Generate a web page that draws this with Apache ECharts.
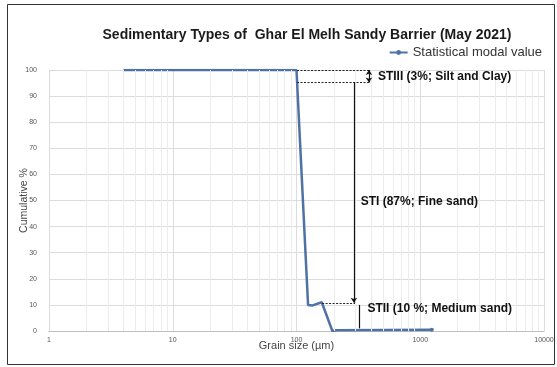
<!DOCTYPE html>
<html>
<head>
<meta charset="utf-8">
<script src="https://cdn.jsdelivr.net/npm/echarts@6/dist/echarts.min.js"></script>
<style>
  html, body { margin: 0; padding: 0; background: #fff; }
  #chart { width: 557px; height: 367px; }
</style>
</head>
<body>
<div id="chart"></div>
<script>
// 数据
const grainSize = [4, 100, 124, 135, 160, 195, 210, 1240]
const cumulative = [100, 100, 10, 9.8, 11, 0, 0.3, 0.5]
const yTicks = [0, 10, 20, 30, 40, 50, 60, 70, 80, 90, 100]
const minorX = [2, 3, 4, 5, 6, 7, 8, 9, 20, 30, 40, 50, 60, 70, 80, 90,
  200, 300, 400, 500, 600, 700, 800, 900, 2000, 3000, 4000, 5000, 6000, 7000, 8000, 9000]

// 注释 (沉积类型)
const stiiiTop = [[101, 100], [385, 100]]
const stiiiBottom = [[101, 95.2], [385, 95.2]]
const stiiiBar = [[385, 100], [385, 95.2]]
const stiArrow = [[291, 95.2], [291, 10.8]]
const stiiDotted = [[161, 10.8], [297, 10.8]]
const stiiBar = [[320, 10], [320, 1]]
const labels = [
  { text: 'STIII (3%; Silt and Clay)', at: [455, 97.3] },
  { text: 'STI (87%; Fine sand)', at: [330, 49.5] },
  { text: 'STII (10 %; Medium sand)', at: [374, 8.5] }
]

const FONT = '"Liberation Sans", Arial, sans-serif'
const chart = echarts.init(document.getElementById('chart'))

const dotted = { type: [2, 1.5], color: '#222', width: 1.2 }
const solid = { type: 'solid', color: '#111', width: 1.2 }

// 次网格线 (对数轴 2..9)
const minorLines = minorX.map(v => ({ xAxis: v }))

const annoLines = [
  [stiiiTop, dotted, null],
  [stiiiBottom, dotted, null],
  [stiiiBar, solid, ['arrow', 'arrow']],
  [stiArrow, solid, ['none', 'arrow']],
  [stiiDotted, dotted, null],
  [stiiBar, solid, null]
].map(([pts, style, sym]) => [
  { coord: pts[0], lineStyle: style, symbol: sym ? sym[0] : 'none' },
  { coord: pts[1], symbol: sym ? sym[1] : 'none' }
])

const option = {
  animation: false,
  textStyle: { fontFamily: FONT },
  title: {
    text: 'Sedimentary Types of  Ghar El Melh Sandy Barrier (May 2021)',
    left: 302,
    textAlign: 'center',
    top: 23,
    textStyle: { fontSize: 14, fontWeight: 'bold', color: '#1a1a1a', fontFamily: FONT }
  },
  legend: {
    right: 10,
    top: 41,
    itemWidth: 18,
    itemHeight: 6,
    itemGap: 2,
    textStyle: { fontSize: 13, color: '#333', fontFamily: FONT },
    data: ['Statistical modal value']
  },
  graphic: [{
    type: 'rect',
    shape: { x: 7.5, y: 4.5, width: 547, height: 360 },
    style: { fill: 'none', stroke: '#333', lineWidth: 1 },
    silent: true
  }],
  grid: { left: 49, right: 13, top: 70, bottom: 36 },
  xAxis: {
    type: 'log',
    logBase: 10,
    min: 1,
    max: 10000,
    name: 'Grain size (µm)',
    nameLocation: 'middle',
    nameMoveOverlap: false,
    nameGap: 9,
    nameTextStyle: { fontSize: 11, color: '#444', fontFamily: FONT },
    axisLine: { lineStyle: { color: '#bfbfbf' } },
    axisTick: { show: false },
    axisLabel: { fontSize: 7, color: '#555', margin: 6, formatter: v => String(v) },
    splitLine: { show: true, lineStyle: { color: '#dcdcdc' } }
  },
  yAxis: {
    type: 'value',
    min: 0,
    max: 100,
    interval: 10,
    name: 'Cumulative %',
    nameLocation: 'middle',
    nameMoveOverlap: false,
    nameGap: 19,
    nameTextStyle: { fontSize: 10.5, color: '#444', fontFamily: FONT },
    axisLine: { show: false },
    axisTick: { show: false },
    axisLabel: { fontSize: 7, color: '#555', margin: 12, formatter: v => yTicks.includes(v) ? String(v) : '' },
    splitLine: { lineStyle: { color: '#dcdcdc' } }
  },
  series: [
    {
      name: 'grid-minor',
      type: 'line',
      data: [],
      silent: true,
      markLine: {
        silent: true,
        animation: false,
        symbol: ['none', 'none'],
        label: { show: false },
        lineStyle: { color: '#ececec', width: 1, type: 'solid' },
        data: minorLines
      }
    },
    {
      name: 'Statistical modal value',
      type: 'line',
      data: grainSize.map((g, i) => {
        const last = i === grainSize.length - 1
        return { value: [g, cumulative[i]], symbolSize: last ? 4 : 0 }
      }),
      symbol: 'circle',
      showAllSymbol: true,
      lineStyle: { color: '#4f72a6', width: 2.5 },
      itemStyle: { color: '#4f72a6' },
      z: 3,
      markLine: {
        silent: true,
        animation: false,
        symbolSize: 5,
        label: { show: false },
        data: annoLines
      },
      markPoint: {
        silent: true,
        symbol: 'circle',
        symbolSize: 0,
        label: {
          show: true,
          position: 'right',
          distance: 0,
          fontSize: 12,
          fontWeight: 'bold',
          color: '#111',
          fontFamily: FONT,
          formatter: p => p.name
        },
        data: labels.map(l => ({ name: l.text, coord: l.at }))
      }
    }
  ]
}

chart.setOption(option)
</script>
</body>
</html>
